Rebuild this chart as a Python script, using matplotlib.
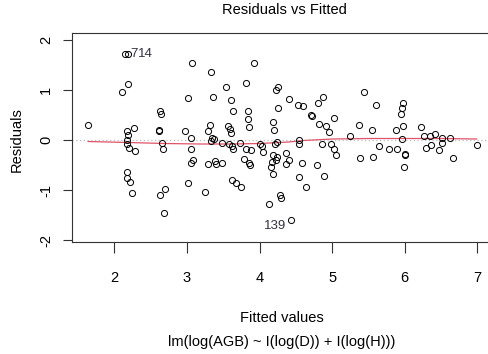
import numpy as np
import matplotlib
matplotlib.use("Agg")
import matplotlib.pyplot as plt

plt.rcParams['font.family'] = ['Liberation Sans', 'DejaVu Sans']

# fitted values and residuals
fitted = [1.64, 2.15, 2.19, 2.19, 2.10, 2.17, 2.19, 2.27, 2.17, 2.18, 2.20, 2.29,
          2.18, 2.17, 2.21, 2.25,
          2.63, 2.65, 2.61, 2.62, 2.66, 2.67, 2.63, 2.70, 2.69, 3.07, 3.02, 2.98,
          3.05, 3.05, 3.09, 3.05, 3.01, 3.25,
          3.33, 3.36, 3.32, 3.29, 3.34, 3.37, 3.33, 3.48, 3.29, 3.39, 3.40, 3.48,
          3.54, 3.61, 3.64, 3.57, 3.60, 3.61, 3.58, 3.62, 3.64, 3.73, 3.62, 3.67, 3.74,
          3.93, 3.81, 3.84, 3.84, 3.85, 3.82, 3.88, 3.79, 3.86, 3.87, 4.01, 4.03, 4.05,
          4.23, 4.26, 4.26, 4.18, 4.20, 4.22, 4.24, 4.19, 4.24, 4.23, 4.17, 4.16, 4.19,
          4.13, 4.28, 4.29, 4.37, 4.41, 4.37, 4.41, 4.43,
          4.53, 4.60, 4.71, 4.72, 4.81, 4.88, 4.82, 4.91, 4.96, 4.55, 4.55, 4.58, 4.55,
          4.64, 4.79, 4.89, 4.86, 4.98, 5.03, 5.06, 5.03,
          5.25, 5.37, 5.44, 5.39, 5.55, 5.60, 5.56, 5.65, 5.79, 5.90, 5.88, 5.97, 5.96,
          5.97, 5.96, 5.95, 6.00, 6.01, 5.99,
          6.22, 6.26, 6.35, 6.42, 6.29, 6.36, 6.52, 6.52, 6.47, 6.63, 6.67, 6.99]
resid = [0.29, 1.71, 1.71, 1.11, 0.96, 0.17, 0.10, 0.23, 0.00, -0.07, -0.16, -0.22,
         -0.63, -0.76, -0.83, -1.06,
         0.58, 0.52, 0.20, 0.17, -0.05, -0.17, -1.10, -0.98, -1.45, 1.53, 0.83, 0.17,
         0.05, -0.17, -0.40, -0.45, -0.86, -1.03,
         1.36, 0.85, 0.30, 0.17, 0.05, 0.03, -0.01, -0.05, -0.47, -0.41, -0.47, -0.45,
         1.05, 0.79, 0.58, 0.28, 0.21, 0.13, -0.08, -0.11, -0.17, -0.05, -0.80, -0.85, -0.93,
         1.54, 1.13, 0.58, 0.41, 0.26, -0.17, -0.20, -0.37, -0.45, -0.49, -0.07, -0.11, -0.23,
         1.00, 1.05, 0.63, 0.35, 0.19, -0.08, -0.03, -0.30, -0.33, -0.40, -0.43, -0.53, -0.68,
         -1.28, -1.10, -1.15, -0.25, -0.39, -0.48, 0.81, -1.60,
         0.70, 0.68, 0.49, 0.47, 0.74, 0.85, 0.31, 0.27, 0.15, 0.01, -0.07, -0.45, -0.73,
         -0.94, -0.49, -0.71, -0.07, -0.08, -0.17, -0.30, 0.43,
         0.08, 0.30, 0.96, -0.35, 0.20, 0.70, -0.33, -0.12, -0.18, -0.18, 0.20, 0.27, 0.03,
         0.73, 0.63, 0.52, -0.28, -0.30, -0.53,
         0.25, 0.08, 0.07, 0.12, -0.15, -0.10, 0.05, -0.05, -0.20, 0.05, -0.35, -0.09]

# smoother
smooth_x = [1.64, 2.2, 2.7, 3.2, 3.6, 4.0, 4.4, 4.6, 5.0, 5.5, 6.0, 6.5, 6.99]
smooth_y = [-0.03, -0.05, -0.07, -0.08, -0.08, -0.07, -0.04, -0.01, 0.02, 0.03, 0.03, 0.03, 0.02]

# labelled observations: (id, fitted, residual, x offset pt, y offset pt, alignment)
labelled = [("7", 2.15, 1.71, 3.5, 0, "left"),
            ("14", 2.19, 1.71, 7.0, 0, "left"),
            ("139", 4.43, -1.60, -3, -4, "right")]

W, H = 489, 354
fig = plt.figure(figsize=(W / 100, H / 100), dpi=100)
ax = fig.add_axes([71.7 / W, (H - 241.7) / H, (490.5 - 71.7) / W, (241.7 - 33) / H])

ax.axhline(0, color='#bebebe', lw=0.9, ls=(0, (1, 2)))
ax.plot(smooth_x, smooth_y, color='#DF536B', lw=0.9)
ax.plot(fitted, resid, ls='none', marker='o', ms=4.4, mfc='none', mec='black', mew=0.7)

for lab, x, y, dx, dy, ha in labelled:
    ax.annotate(lab, (x, y), xytext=(dx, dy), textcoords='offset points',
                ha=ha, va='center', fontsize=9.5, color='#333344')

ax.set_xlim(1.413, 7.182)
ax.set_ylim(-2.03, 2.136)
ax.set_xticks([2, 3, 4, 5, 6, 7])
ax.set_yticks([-2, -1, 0, 1, 2])
ax.set_yticklabels(['-2', '-1', '0', '1', '2'], rotation=90, va='center')

for s in ax.spines.values():
    s.set_color('#333333')
    s.set_linewidth(0.8)
ax.tick_params(axis='x', length=8, width=0.8, color='#333333', pad=13, labelsize=10.5)
ax.tick_params(axis='y', length=6.5, width=0.8, color='#333333', pad=7, labelsize=10.5)

fig.text(284 / W, 1 - 10 / H, "Residuals vs Fitted", ha='center', va='center', fontsize=10.5)
fig.text(17 / W, 1 - 140 / H, "Residuals", ha='center', va='center', rotation=90, fontsize=10.5)
fig.text(281.7 / W, 1 - 318.3 / H, "Fitted values", ha='center', va='center', fontsize=10.5)
fig.text(281.7 / W, 1 - 341.7 / H, "lm(log(AGB) ~ I(log(D)) + I(log(H)))",
         ha='center', va='center', fontsize=10.5)

fig.savefig("out.png", dpi=100)
